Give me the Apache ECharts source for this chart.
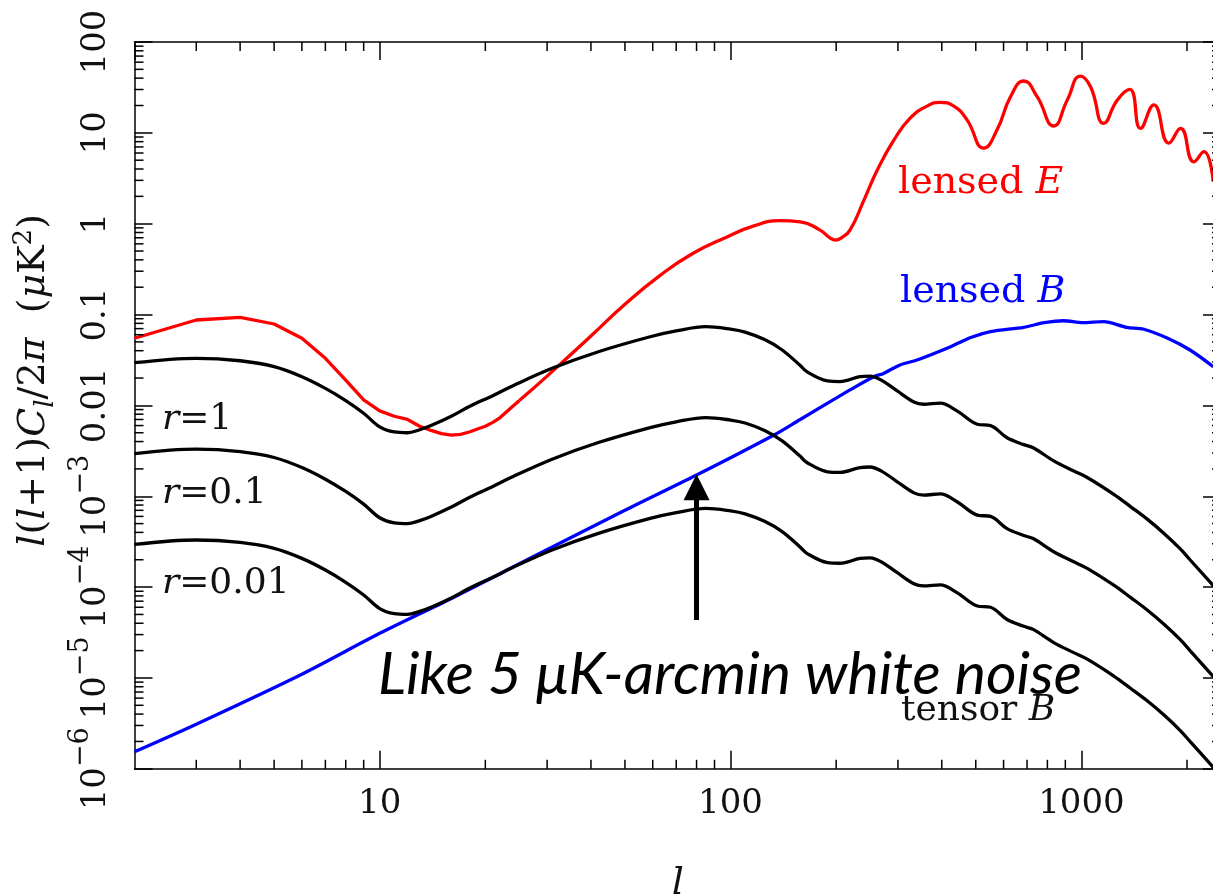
<!DOCTYPE html>
<html>
<head>
<meta charset="utf-8">
<script src="https://cdn.jsdelivr.net/npm/echarts@6/dist/echarts.min.js"></script>
<style>
html,body{margin:0;padding:0;background:#ffffff;}
#chart{width:1213px;height:896px;}
</style>
</head>
<body>
<div id="chart"></div>
<script>
// ---------------- data ----------------
// lensed E, low multipoles (straight segments between integer l)
const eLowL = [2,3,4,5,6,7,8,9,10,11,12,13,14,15,16,17,18,19,20,21,22,23,25];
const eLowV = [0.0548,0.0871,0.0933,0.0787,0.0548,0.033,0.019,0.0115,0.0087,0.0076,0.0070,0.0059,0.0053,0.0049,0.0047,0.0048,0.0051,0.0055,0.0059,0.0065,0.0073,0.0085,0.0113];
// lensed E, higher multipoles (smooth, oscillating)
const eHighL = [25,30,40,50,63,78,98,116,138,158,180,192,199,207,219,240,262,292,325,363,396,433,472,527,575,628,685,748,834,911,994,1062,1158,1265,1374,1474,1609,1776,1917,2092,2234,2376];
const eHighV = [0.0113,0.021,0.058,0.13,0.27,0.47,0.72,0.94,1.08,1.05,0.85,0.70,0.66,0.70,0.85,1.82,3.9,8.3,14.5,19.7,21.7,19.7,13.9,6.8,10.8,25,37.2,25,11.9,22.9,42.2,32.2,12.7,22.9,30.1,11.2,20.3,7.7,11.2,4.8,6.2,2.9];
// lensed B
const bL = [2,3,6,10,16,27,50,80,133,158,219,256,273,304,340,424,486,551,685,784,889,1009,1158,1345,1507,1762,2040,2376];
const bV = [1.54e-6,3.1e-6,1.1e-5,3.1e-5,7.5e-5,2.1e-4,7.0e-4,1.71e-3,4.72e-3,7.0e-3,0.0148,0.0207,0.0225,0.0279,0.0316,0.0443,0.0562,0.0648,0.0724,0.0813,0.0855,0.0813,0.0834,0.0724,0.0689,0.0548,0.0407,0.0267];
// tensor B multipoles (shared by the three r curves)
const tL = [2,3,4,5,6,7,8,9,10,11,12,13,14,16,18,21,24,31,42,59,70,85,100,110,125,140,158,165,189,205,234,250,270,298,333,355,396,442,505,551,614,685,731,834,951,1039,1237,1380,1540,1720,1917,2040,2381];
const tR1 = [0.0295,0.033,0.031,0.0267,0.0207,0.0154,0.0113,0.0082,0.0058,0.0051,0.0050,0.0054,0.0060,0.0076,0.0097,0.0128,0.0165,0.0256,0.039,0.057,0.066,0.0735,0.069,0.064,0.053,0.041,0.0275,0.0235,0.0186,0.0183,0.0207,0.021,0.0188,0.0145,0.0109,0.0103,0.0106,0.0087,0.0062,0.0060,0.0044,0.0037,0.0034,0.00245,0.0019,0.00161,0.00105,0.00077,0.00056,0.00039,0.000262,0.0002,0.000103];
const tR01 = [0.00295,0.0033,0.0031,0.00267,0.00207,0.00154,0.00113,0.00082,0.00058,0.00051,0.00050,0.00054,0.00060,0.00076,0.00097,0.00128,0.00165,0.00256,0.0039,0.0057,0.0066,0.00735,0.0069,0.0064,0.0053,0.0041,0.00275,0.00235,0.00186,0.00183,0.00207,0.0021,0.00188,0.00145,0.00109,0.00103,0.00106,0.00087,0.00062,0.00060,0.00044,0.00037,0.00034,0.000245,0.00019,0.000161,0.000105,0.000077,0.000056,0.000039,0.0000262,0.00002,0.0000103];
const tR001 = [0.000295,0.00033,0.00031,0.000267,0.000207,0.000154,0.000113,0.000082,0.000058,0.000051,0.000050,0.000054,0.000060,0.000076,0.000097,0.000128,0.000165,0.000256,0.00039,0.00057,0.00066,0.000735,0.00069,0.00064,0.00053,0.00041,0.000275,0.000235,0.000186,0.000183,0.000207,0.00021,0.000188,0.000145,0.000109,0.000103,0.000106,0.000087,0.000062,0.000060,0.000044,0.000037,0.000034,0.0000245,0.000019,0.0000161,0.0000105,0.0000077,0.0000056,0.0000039,0.00000262,0.000002,0.00000103];
// arrow: multipole and the two ends (values)
const arrowL = 80;
const arrowFrom = 4.35e-5;
const arrowTo = 1.26e-3;
// axis ranges and minor tick values
const X_MIN = 2, X_MAX = 2500, Y_MIN = 1e-6, Y_MAX = 100;
const xMinorTicks = [3,4,5,6,7,8,9,20,30,40,50,60,70,80,90,200,300,400,500,600,700,800,900,2000];
const yMinorTicks = [];
[1e-6,1e-5,1e-4,1e-3,1e-2,1e-1,1,10].forEach(function(d){ for (let k=2;k<=9;k++) yMinorTicks.push(+(d*k).toPrecision(3)); });
// texts
const curveLabels = {
  E: 'lensed {i|E}', B: 'lensed {i|B}', T: 'tensor {i|B}',
  r1: '{i|r}=1', r01: '{i|r}=0.1', r001: '{i|r}=0.01'
};
const noteText = 'Like 5 μK-arcmin white noise';
const yName = '{i|l}{n|(}{i|l}{n|+1)}{i|C}{sub|l}{n|/2}{i|\u03c0}{n|  (}{i|\u03bc}{n|K}{sup|2}{n|)}';

// ---------------- chart ----------------
function zip(ls, vs){ return ls.map(function(l,i){ return [l, vs[i]]; }); }
const SERIF = 'DejaVu Serif';
const MAJOR = 18, MINOR = 9, TW = 1.5, LW = 3.3;

function xLabel(v){
  const e = Math.log10(v);
  if (Math.abs(e - Math.round(e)) > 1e-6) return '';
  return '{b|' + String(Math.round(v)) + '}';
}
function yLabel(v){
  const e = Math.round(Math.log10(v));
  if (e >= 0) return '{b|' + String(Math.round(Math.pow(10,e))) + '}';
  if (e === -1) return '{b|0.1}';
  if (e === -2) return '{b|0.01}';
  return '{b|10}{s|\u2212' + (-e) + '}';
}
const labelRich = {
  b: {fontFamily: SERIF, fontSize: 34, color: '#111', padding: [12,0,0,0], verticalAlign: 'bottom'},
  s: {fontFamily: SERIF, fontSize: 27, color: '#111', verticalAlign: 'top'}
};
const xLabelRich = {
  b: {fontFamily: SERIF, fontSize: 34, color: '#111'}
};

function baseX(pos, show){
  return {
    type: 'log', logBase: 10, min: X_MIN, max: X_MAX, position: pos, gridIndex: 0,
    axisLine: {show: true, onZero: false, lineStyle: {color: '#000', width: TW}},
    axisTick: {show: true, inside: true, length: MAJOR, lineStyle: {color: '#000', width: TW}},
    minorTick: {show: false}, splitLine: {show: false}, minorSplitLine: {show: false},
    axisLabel: show ? {show: true, margin: 18, formatter: xLabel, rich: xLabelRich, showMinLabel: false, showMaxLabel: false} : {show: false}
  };
}
function baseY(pos, show){
  return {
    type: 'log', logBase: 10, min: Y_MIN, max: Y_MAX, position: pos, gridIndex: 0,
    axisLine: {show: true, onZero: false, lineStyle: {color: '#000', width: TW}},
    axisTick: {show: true, inside: true, length: MAJOR, lineStyle: {color: '#000', width: TW}},
    minorTick: {show: false}, splitLine: {show: false}, minorSplitLine: {show: false},
    axisLabel: show ? {show: true, rotate: 90, margin: 21, formatter: yLabel, rich: labelRich} : {show: false}
  };
}
const xMain = baseX('bottom', true);
xMain.name = 'l';
xMain.nameLocation = 'middle';
xMain.nameGap = 96;
xMain.nameTextStyle = {fontFamily: SERIF, fontStyle: 'italic', fontSize: 38, color: '#111'};
const yMain = baseY('left', true);
yMain.name = yName;
yMain.nameLocation = 'middle';
yMain.nameGap = 57;
yMain.nameTextStyle = {
  fontFamily: SERIF, fontSize: 38, color: '#111', padding: [0,0,0,50],
  rich: {
    n: {fontFamily: SERIF, fontSize: 38, color: '#111', padding: [10,0,10,0]},
    i: {fontFamily: SERIF, fontSize: 38, fontStyle: 'italic', color: '#111', padding: [10,0,10,0]},
    sub: {fontFamily: SERIF, fontSize: 26, fontStyle: 'italic', color: '#111', verticalAlign: 'bottom', padding: [0,0,4,0]},
    sup: {fontFamily: SERIF, fontSize: 26, color: '#111', verticalAlign: 'top', padding: [6,0,0,0]}
  }
};

function lineSeries(name, data, color, smooth, z){
  return {
    type: 'line', name: name, data: data, smooth: smooth, symbol: 'none', showSymbol: false,
    lineStyle: {color: color, width: LW}, itemStyle: {color: color}, z: z || 2,
    silent: true, animation: false, clip: true
  };
}
const blue = lineSeries('lensed B', zip(bL, bV), '#0000ff', 0.3, 3);
blue.markLine = {
  silent: true, animation: false,
  symbol: ['none', 'triangle'], symbolSize: 26,
  label: {show: false},
  lineStyle: {color: '#000', width: 5, type: 'solid'},
  itemStyle: {color: '#000'},
  emphasis: {disabled: true},
  data: [[{coord: [arrowL, arrowFrom]}, {coord: [arrowL, arrowTo]}]]
};

const option = {
  animation: false,
  backgroundColor: '#ffffff',
  grid: {left: 134.5, right: -8, top: 42, bottom: 127.2, containLabel: false, outerBoundsMode: 'none'},
  xAxis: [xMain, baseX('top', false)],
  yAxis: [yMain, baseY('right', false)],
  series: [
    lineSeries('lensed E', zip(eLowL, eLowV), '#ff0000', false, 2),
    lineSeries('lensed E', zip(eHighL, eHighV), '#ff0000', 0.5, 2),
    blue,
    lineSeries('tensor B r=1', zip(tL, tR1), '#000000', 0.35, 4),
    lineSeries('tensor B r=0.1', zip(tL, tR01), '#000000', 0.35, 4),
    lineSeries('tensor B r=0.01', zip(tL, tR001), '#000000', 0.35, 4),
    {
      type: 'custom', name: 'x minor ticks', silent: true, animation: false, z: 10,
      data: xMinorTicks.map(function(v){ return [v, 1]; }),
      renderItem: function(params, api){
        const v = api.value(0);
        const b = api.coord([v, Y_MIN]);
        const t = api.coord([v, Y_MAX]);
        const st = {stroke: '#000', lineWidth: TW};
        return {type: 'group', children: [
          {type: 'line', shape: {x1: b[0], y1: b[1], x2: b[0], y2: b[1] - MINOR}, style: st},
          {type: 'line', shape: {x1: t[0], y1: t[1], x2: t[0], y2: t[1] + MINOR}, style: st}
        ]};
      }
    },
    {
      type: 'custom', name: 'y minor ticks', silent: true, animation: false, z: 10,
      data: yMinorTicks.map(function(v){ return [10, v]; }),
      renderItem: function(params, api){
        const v = api.value(1);
        const l = api.coord([X_MIN, v]);
        const r = api.coord([X_MAX, v]);
        const st = {stroke: '#000', lineWidth: TW};
        return {type: 'group', children: [
          {type: 'line', shape: {x1: l[0], y1: l[1], x2: l[0] + MINOR, y2: l[1]}, style: st},
          {type: 'line', shape: {x1: r[0], y1: r[1], x2: r[0] - MINOR, y2: r[1]}, style: st}
        ]};
      }
    }
  ],
  graphic: [
    {type: 'text', x: 898, y: 183, silent: true, style: {text: curveLabels.E, fill: '#ff0000', fontFamily: SERIF, fontSize: 38, align: 'left', verticalAlign: 'middle',
      rich: {i: {fontFamily: SERIF, fontSize: 38, fontStyle: 'italic', fill: '#ff0000', color: '#ff0000'}}}},
    {type: 'text', x: 900, y: 292, silent: true, style: {text: curveLabels.B, fill: '#0000ff', fontFamily: SERIF, fontSize: 38, align: 'left', verticalAlign: 'middle',
      rich: {i: {fontFamily: SERIF, fontSize: 38, fontStyle: 'italic', fill: '#0000ff', color: '#0000ff'}}}},
    {type: 'text', x: 901, y: 711, silent: true, style: {text: curveLabels.T, fill: '#111', fontFamily: SERIF, fontSize: 36, align: 'left', verticalAlign: 'middle',
      rich: {i: {fontFamily: SERIF, fontSize: 36, fontStyle: 'italic', fill: '#111', color: '#111'}}}},
    {type: 'text', x: 162, y: 420, silent: true, style: {text: curveLabels.r1, fill: '#111', fontFamily: SERIF, fontSize: 36, align: 'left', verticalAlign: 'middle',
      rich: {i: {fontFamily: SERIF, fontSize: 36, fontStyle: 'italic', fill: '#111', color: '#111'}}}},
    {type: 'text', x: 162, y: 494, silent: true, style: {text: curveLabels.r01, fill: '#111', fontFamily: SERIF, fontSize: 36, align: 'left', verticalAlign: 'middle',
      rich: {i: {fontFamily: SERIF, fontSize: 36, fontStyle: 'italic', fill: '#111', color: '#111'}}}},
    {type: 'text', x: 162, y: 584, silent: true, style: {text: curveLabels.r001, fill: '#111', fontFamily: SERIF, fontSize: 36, align: 'left', verticalAlign: 'middle',
      rich: {i: {fontFamily: SERIF, fontSize: 36, fontStyle: 'italic', fill: '#111', color: '#111'}}}},
    {type: 'text', x: 378, y: 675, silent: true, z: 20, style: {text: noteText, fill: '#000', fontFamily: 'Lato', fontStyle: 'italic', fontSize: 59, align: 'left', verticalAlign: 'middle'}}
  ]
};

const chart = echarts.init(document.getElementById('chart'), null, {renderer: 'canvas', width: 1213, height: 896});
chart.setOption(option);
</script>
</body>
</html>
